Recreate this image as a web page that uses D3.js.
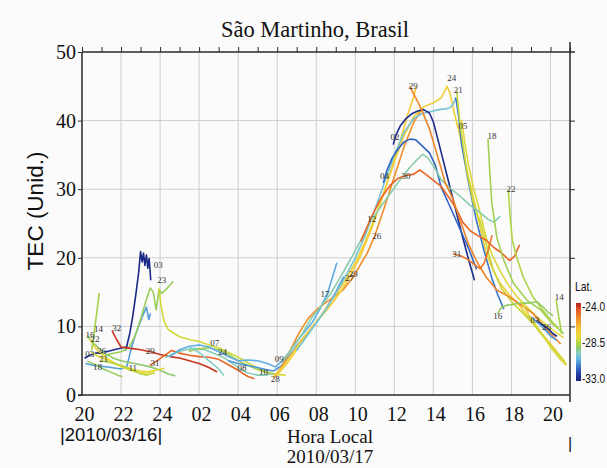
<!DOCTYPE html>
<html><head><meta charset="utf-8">
<script src="https://cdn.jsdelivr.net/npm/d3@7"></script>
<style>
html,body{margin:0;padding:0;background:#fbfbfb;}
svg{display:block;}
</style></head>
<body>
<svg id="chart" width="607" height="468"></svg>
<script>
// ---------------- DATA (hours counted from 20h of 2010/03/16; 24+ = next day) ----------------
const xTickValues = [20,22,24,26,28,30,32,34,36,38,40,42,44];
const xTickLabels = ["20","22","24","02","04","06","08","10","12","14","16","18","20"];
const yTickValues = [0,10,20,30,40,50];
const latTickValues = [-24.0,-28.5,-33.0];
const latTickLabels = ["-24.0","-28.5","-33.0"];

// TEC tracks: [hour, TEC]
const trk03night = [[20.15,5.4],[20.4,5.8],[20.7,6.1],[21.0,6.2],[21.4,6.4],[21.8,6.7],[22.1,6.9],[22.3,7.0]];
const trk03climb = [[22.25,6.6],[22.45,9.0],[22.6,11.5],[22.75,14.5],[22.9,17.8],[23.0,20.9],[23.08,19.4],[23.15,20.7],[23.22,18.9],[23.3,20.4],[23.37,18.5],[23.44,19.9],[23.52,16.8]];
const trkLblNight = [[20.2,4.6],[20.6,4.3],[21.0,4.2],[21.5,4.0],[22.0,3.8],[22.3,4.2],[22.5,6.5],[22.7,8.5],[22.9,10.0],[23.1,11.5],[23.3,12.8],[23.42,11.0],[23.5,11.8]];
const trk23 = [[21.0,5.6],[21.5,6.0],[22.0,6.3],[22.4,6.9],[22.7,8.5],[23.0,11.0],[23.25,13.5],[23.5,15.6],[23.65,15.0],[23.8,12.4],[23.95,15.4],[24.1,14.8],[24.3,15.4],[24.5,16.0],[24.65,16.5]];
const trk07 = [[23.95,15.5],[24.05,13.0],[24.2,10.8],[24.4,9.6],[24.7,9.0],[25.0,8.5],[25.5,8.1],[26.0,7.8],[26.5,7.3],[27.0,6.9],[27.5,6.2],[28.0,5.5],[28.5,4.7],[29.0,3.9],[29.5,3.3],[30.0,3.0],[30.4,2.9]];
const trk32 = [[21.55,9.3],[21.75,8.2],[22.0,7.0],[22.5,6.8],[23.0,6.6],[23.5,6.3],[24.0,5.9],[24.5,5.6],[25.0,5.4],[25.5,5.0],[26.0,4.6],[26.5,4.0],[26.9,3.4]];
const trk31night = [[23.5,4.4],[23.8,4.9],[24.2,5.7],[24.6,6.5],[25.0,6.1],[25.5,5.8],[26.0,5.6],[26.5,5.5],[27.0,5.2],[27.5,4.4],[28.0,3.6],[28.5,2.7],[28.8,2.4]];
const trk16night = [[20.3,8.6],[20.5,7.8],[20.8,7.0],[21.2,6.0],[21.6,5.4],[22.0,5.0],[22.5,4.7],[23.0,4.4],[23.5,4.1],[24.0,3.6],[24.4,3.1],[24.75,2.8]];
const trk22night = [[20.4,8.1],[20.6,7.2],[20.9,6.2],[21.3,5.3],[21.7,4.6],[22.1,4.0],[22.5,3.6],[22.9,3.3],[23.3,3.2],[23.7,3.5]];
const trk14night = [[20.5,6.6],[20.6,8.5],[20.7,10.8],[20.8,13.0],[20.88,14.8]];
const trk18night = [[20.3,4.9],[20.7,4.4],[21.1,3.8],[21.5,3.3],[21.9,2.8],[22.05,2.7]];
const trk21night = [[20.5,6.2],[20.9,5.5],[21.3,5.1],[21.8,4.5],[22.3,4.0],[22.8,3.6],[23.3,3.4],[23.8,3.6],[24.2,3.9]];
const trk11 = [[21.0,5.0],[21.5,4.7],[22.0,4.3],[22.5,3.7],[23.0,3.1],[23.3,2.9],[23.7,3.2]];
const trk08 = [[24.3,5.5],[24.8,6.2],[25.3,6.6],[25.8,6.8],[26.3,6.6],[26.8,6.0],[27.3,5.4],[27.7,4.6],[28.1,3.8],[28.5,3.2],[29.0,2.9],[29.4,2.9],[29.7,3.1]];
const trk24night = [[25.5,6.4],[26.0,6.7],[26.5,6.9],[27.0,6.6],[27.5,5.9],[28.0,5.0],[28.5,4.3],[29.0,3.7],[29.5,3.2],[30.0,3.0]];
const trk09 = [[24.5,5.6],[25.0,6.6],[25.5,7.1],[26.0,7.3],[26.5,7.0],[27.0,6.3],[27.5,5.6],[28.0,5.0],[28.5,5.1],[29.0,5.0],[29.5,4.6],[29.9,4.1],[30.2,4.8],[30.6,6.2],[31.0,7.8],[31.4,9.2],[31.8,10.6],[32.2,12.6],[32.6,15.0],[33.05,19.2]];
const trk10 = [[27.5,5.0],[28.0,4.6],[28.5,4.3],[29.0,4.0],[29.4,3.7],[29.8,3.5],[30.2,4.2],[30.6,5.6],[31.0,7.2],[31.5,8.8],[32.0,10.5],[32.5,12.6],[33.0,15.0],[33.4,17.2]];
const trkTeal = [[25.5,7.0],[26.0,6.2],[26.5,5.0],[27.0,3.8],[27.25,2.9]];
const trk27 = [[29.9,2.7],[30.3,4.5],[30.7,6.7],[31.0,8.4],[31.3,9.9],[31.6,11.2],[32.0,12.4],[32.5,13.5],[33.0,14.5],[33.4,15.4],[33.9,17.2],[34.3,19.2],[34.6,20.6],[35.0,23.2],[35.5,27.4],[36.0,31.8],[36.5,36.2],[37.0,39.8],[37.4,41.6]];
const trk29up = [[29.8,2.6],[30.3,4.2],[30.8,6.2],[31.3,8.2],[31.8,10.0],[32.3,11.6],[32.8,13.3],[33.3,15.3],[33.8,17.6],[34.3,20.5],[34.8,24.0],[35.3,28.0],[35.8,32.5],[36.3,37.0],[36.7,41.0],[37.0,43.5],[37.1,44.8]];
const trk24day = [[30.0,2.9],[30.5,4.6],[31.0,6.6],[31.5,8.6],[32.0,10.6],[32.5,12.6],[33.0,14.6],[33.5,16.8],[34.0,19.3],[34.5,22.3],[35.0,25.8],[35.5,29.8],[36.0,34.0],[36.5,37.8],[37.0,40.6],[37.5,42.0],[38.0,42.6],[38.4,43.3],[38.7,45.0],[38.85,44.0],[39.1,40.8],[39.4,37.4],[39.7,33.0],[40.05,28.8],[40.4,24.4],[40.7,20.8],[41.0,18.6],[41.4,16.4],[41.8,14.9],[42.3,13.4],[42.7,12.0],[43.1,10.6],[43.6,8.8],[44.1,7.1],[44.7,5.0]];
const trk21up = [[31.0,6.5],[31.5,8.5],[32.0,10.5],[32.5,12.5],[33.0,14.8],[33.5,17.3],[34.0,20.0],[34.5,23.2],[35.0,27.0],[35.5,31.0],[36.0,35.0],[36.5,38.3],[37.0,40.3],[37.4,41.0],[37.8,41.3],[38.3,41.6],[38.8,41.8],[39.0,42.3],[39.15,43.3]];
const trk21fall = [[39.15,43.3],[39.3,40.5],[39.45,36.5],[39.8,31.0],[40.2,25.5],[40.6,21.0],[41.0,17.0],[41.3,14.6],[41.6,12.6]];
const trk21day = [[39.2,44.2],[39.35,40.0],[39.7,32.8],[40.05,28.0],[40.4,25.3],[40.75,21.5],[41.07,18.2],[41.5,15.5],[42.1,13.3],[42.6,11.9],[43.1,10.4],[43.6,8.6],[44.1,6.9],[44.5,5.6],[44.8,4.5]];
const trk05 = [[39.45,40.0],[39.6,37.0],[39.8,33.5],[40.05,30.3],[40.4,26.5],[40.7,23.0],[41.0,20.5],[41.4,18.2],[41.8,16.2],[42.3,14.3],[42.8,12.8],[43.3,11.4],[43.7,10.4],[44.1,9.5],[44.65,8.4]];
const trk02 = [[35.95,36.6],[36.1,38.0],[36.3,39.2],[36.6,40.3],[36.9,41.0],[37.2,41.4],[37.5,41.6],[37.8,41.1],[38.0,39.8],[38.3,36.5],[38.7,32.0],[39.1,27.5],[39.5,23.0],[39.8,19.8],[40.1,16.8]];
const trk04 = [[35.45,31.0],[35.6,32.6],[35.9,34.6],[36.2,35.9],[36.5,36.9],[36.8,37.3],[37.1,37.2],[37.4,36.4],[37.8,35.3],[38.1,33.5],[38.4,30.3],[38.8,27.8],[39.3,24.6],[39.8,21.4],[40.2,18.4]];
const trk12 = [[30.3,5.0],[30.8,7.0],[31.3,9.0],[31.7,11.0],[32.2,12.8],[32.7,14.6],[33.2,17.0],[33.7,19.5],[34.3,22.6],[34.8,25.4],[35.3,27.4],[35.8,29.4],[36.3,31.4],[36.8,33.2],[37.2,34.4],[37.45,35.1],[37.7,34.6],[38.0,33.4],[38.4,31.4],[38.8,30.3],[39.4,28.9],[39.9,27.6],[40.4,26.6],[40.8,25.6],[41.1,25.2],[41.4,26.0]];
const trk30 = [[34.3,22.5],[34.8,25.8],[35.3,28.6],[35.8,30.6],[36.2,31.6],[36.6,32.0],[37.0,32.2],[37.3,32.8],[37.6,32.2],[38.0,31.3],[38.4,30.4],[38.8,28.8],[39.2,27.0],[39.5,25.2],[39.9,23.9],[40.3,23.2],[40.7,22.6],[41.1,21.5],[41.5,20.7],[41.9,19.6],[42.15,20.2],[42.4,21.8]];
const trk29down = [[36.8,44.9],[37.1,43.3],[37.4,41.6],[37.8,38.8],[38.2,35.0],[38.6,31.0],[39.0,28.6],[39.4,25.2],[39.8,22.0],[40.2,19.6],[40.7,17.2],[41.25,15.3],[41.9,14.3],[42.4,13.3],[43.1,11.9],[43.8,9.5],[44.5,7.5]];
const trk31day = [[39.05,20.6],[39.4,20.3],[39.8,19.7],[40.1,19.0],[40.4,18.4],[40.6,19.2],[40.8,21.0],[41.0,23.2]];
const trk18day = [[40.8,37.3],[40.9,32.0],[41.0,27.9],[41.25,23.0],[41.6,19.7],[42.1,16.3],[42.8,13.8],[43.5,12.4],[44.1,10.4],[44.65,9.0]];
const trk22day = [[41.84,29.8],[41.95,25.5],[42.05,22.5],[42.27,20.1],[42.6,17.2],[43.1,14.3],[43.6,12.4],[44.1,10.6],[44.4,9.8]];
const trk16day = [[41.3,11.9],[41.5,12.8],[41.76,13.1],[42.1,13.2],[42.4,13.4],[42.9,13.4],[43.3,13.6],[43.6,12.9],[43.9,12.0],[44.1,11.6]];
const trk14day = [[44.3,13.8],[44.4,11.8],[44.5,10.2],[44.57,9.0]];
const trk03day = [[43.3,10.8],[43.6,10.2],[43.9,9.6],[44.1,9.0],[44.3,8.6]];
const trk26day = [[42.9,11.5],[43.3,10.7],[43.7,9.6],[44.0,8.6],[44.3,8.0]];
const trkLowYG = [[42.5,13.5],[43.0,11.2],[43.5,9.2],[44.0,7.0],[44.5,5.2],[44.8,4.4]];

const trackList = [trk03night,trk03climb,trkLblNight,trk23,trk07,trk32,trk31night,trk16night,trk22night,trk14night,trk18night,trk21night,trk11,trk08,trk24night,trk09,trk10,trkTeal,trk27,trk29up,trk24day,trk21up,trk21fall,trk21day,trk05,trk02,trk04,trk12,trk30,trk29down,trk31day,trk18day,trk22day,trk16day,trk14day,trk03day,trk26day,trkLowYG];
// latitude of the ionospheric point of each track (colour)
const trackLat = [-32.6,-32.8,-30.8,-29.0,-28.2,-24.3,-25.0,-29.2,-27.6,-28.8,-29.0,-27.9,-28.6,-29.7,-28.9,-30.6,-30.9,-29.8,-25.8,-27.2,-27.4,-30.1,-31.3,-28.3,-28.0,-32.7,-31.6,-29.6,-25.0,-25.6,-25.3,-28.9,-28.7,-29.1,-28.8,-32.8,-30.8,-28.0];

// PRN labels: text, hour, TEC
const prnText  = ["16","14","22","03","26","21","18","11","32","29","31","03","23","07","24","08","10","28","09","17","27","29","12","26","04","30","02","29","24","21","05","18","22","31","16","14","03","26"];
const prnHour  = [20.41,20.84,20.67,20.4,21.0,21.1,20.8,22.6,21.78,23.5,23.74,23.9,24.08,26.8,27.2,28.2,29.3,29.9,30.1,32.45,33.7,33.9,34.84,35.1,35.5,36.6,36.03,36.97,38.94,39.28,39.5,41.0,41.98,39.2,41.3,44.45,43.2,43.8];
const prnTEC   = [8.8,9.6,8.1,6.0,6.4,5.3,4.1,3.9,9.8,6.4,4.7,19.0,16.7,7.6,6.3,3.9,3.4,2.4,5.2,14.7,17.1,17.6,25.6,23.2,31.9,31.9,37.6,45.0,46.2,44.5,39.2,37.7,30.0,20.6,11.5,14.3,11.0,9.9];

// ---------------- DRAW ----------------
const svg = d3.select("#chart");
const L = 82, R = 570, T = 52, B = 395;
const x = d3.scaleLinear().domain([20,45]).range([L,R]);
const y = d3.scaleLinear().domain([0,50]).range([B,T]);

const latColor = d3.scaleLinear()
  .domain([-33.0,-32.0,-31.2,-30.5,-29.8,-29.2,-28.6,-27.8,-27.0,-26.0,-25.0,-24.0])
  .range(["#16207a","#2848b0","#3f7fd0","#62b4e6","#86cfc8","#8cc96a","#b6d63c","#e9d93a","#f7c533","#f39a2c","#ea6524","#b8201c"]);

svg.append("rect").attr("width",607).attr("height",468).attr("fill","#fbfbfb");

// grid
const grid = svg.append("g").attr("stroke","#cdcdcd").attr("stroke-width",1);
grid.selectAll("line.v").data(xTickValues.slice(1)).join("line")
  .attr("x1",d=>x(d)).attr("x2",d=>x(d)).attr("y1",T).attr("y2",B);
grid.selectAll("line.h").data(yTickValues.slice(1,-1)).join("line")
  .attr("x1",L).attr("x2",R).attr("y1",d=>y(d)).attr("y2",d=>y(d));

// tracks
const line = d3.line().x(d=>x(d[0])).y(d=>y(d[1]));
svg.append("g").selectAll("path").data(trackList).join("path")
  .attr("d",line).attr("fill","none")
  .attr("stroke",(d,i)=>latColor(trackLat[i]))
  .attr("stroke-width",1.6).attr("stroke-linejoin","round").attr("stroke-linecap","round");

// PRN labels
svg.append("g").selectAll("text").data(prnText).join("text")
  .attr("x",(d,i)=>x(prnHour[i])).attr("y",(d,i)=>y(prnTEC[i]))
  .attr("text-anchor","middle").attr("dominant-baseline","central")
  .attr("font-family","Liberation Serif, serif").attr("font-size",9).attr("fill","#333")
  .text(d=>d);

// axes
const axColor = "#2a2a2a";
const yAx = svg.append("g").attr("transform",`translate(${L},0)`)
  .call(d3.axisLeft(y).tickValues(yTickValues).tickSize(4).tickPadding(2).tickFormat(d3.format("d")));
yAx.select(".domain").remove();
yAx.selectAll("line").attr("stroke",axColor);
yAx.selectAll("text").attr("font-family","Liberation Serif, serif").attr("font-size",20).attr("fill","#111");

const xAx = svg.append("g").attr("transform",`translate(2,${B})`)
  .call(d3.axisBottom(x).tickValues(xTickValues).tickSize(0).tickPadding(12).tickFormat((d,i)=>xTickLabels[i]));
xAx.select(".domain").remove();
xAx.selectAll("text").attr("font-family","Liberation Serif, serif").attr("font-size",20).attr("fill","#111");

const topAx = svg.append("g").attr("transform",`translate(0,${T})`)
  .call(d3.axisTop(x).ticks(25).tickSize(5).tickFormat(""));
topAx.select(".domain").remove();
topAx.selectAll("line").attr("stroke",axColor);

const rAx = svg.append("g").attr("transform",`translate(${R},0)`)
  .call(d3.axisRight(y).tickValues(yTickValues.slice(1,-1)).tickSize(5).tickFormat(""));
rAx.select(".domain").remove();
rAx.selectAll("line").attr("stroke",axColor);

const frame = svg.append("g").attr("stroke",axColor).attr("stroke-width",1.5);
frame.append("line").attr("x1",L).attr("x2",L).attr("y1",T).attr("y2",B);
frame.append("line").attr("x1",L-4).attr("x2",R).attr("y1",B).attr("y2",B);
frame.append("line").attr("x1",L).attr("x2",R+5).attr("y1",T).attr("y2",T);
frame.append("line").attr("x1",R).attr("x2",R).attr("y1",T-10).attr("y2",B+7);

// titles
svg.append("text").attr("x",315).attr("y",37).attr("text-anchor","middle")
  .attr("font-family","Liberation Serif, serif").attr("font-size",22.5).attr("fill","#111")
  .text("São Martinho, Brasil");
svg.append("text").attr("transform","translate(43,211) rotate(-90)").attr("text-anchor","middle")
  .attr("font-family","Liberation Sans, Arial, sans-serif").attr("font-size",22.5).attr("fill","#111")
  .text("TEC (Unid.)");
svg.append("text").attr("x",60).attr("y",441)
  .attr("font-family","Liberation Sans, Arial, sans-serif").attr("font-size",18.5).attr("fill","#111")
  .text("|2010/03/16|");
svg.append("text").attr("x",330).attr("y",443).attr("text-anchor","middle")
  .attr("font-family","Liberation Serif, serif").attr("font-size",19).attr("fill","#111")
  .text("Hora Local");
svg.append("text").attr("x",330).attr("y",463).attr("text-anchor","middle")
  .attr("font-family","Liberation Serif, serif").attr("font-size",19).attr("fill","#111")
  .text("2010/03/17");
svg.append("text").attr("x",570).attr("y",449).attr("text-anchor","middle")
  .attr("font-family","Liberation Sans, Arial, sans-serif").attr("font-size",16).attr("fill","#111")
  .text("|");

// colour bar
const cb = d3.scaleLinear().domain([-33,-24]).range([378,306]);
const defs = svg.append("defs");
const grad = defs.append("linearGradient").attr("id","latgrad").attr("x1",0).attr("y1",1).attr("x2",0).attr("y2",0);
latColor.domain().forEach((v,i)=>{
  grad.append("stop").attr("offset",(v+33)/9).attr("stop-color",latColor.range()[i]);
});
svg.append("rect").attr("x",576).attr("y",cb(-24)-3).attr("width",5).attr("height",cb(-33)-cb(-24)+6)
  .attr("fill","url(#latgrad)");
svg.append("g").selectAll("text").data(latTickValues).join("text")
  .attr("transform",d=>`translate(582,${cb(d)}) scale(0.78,1)`)
  .attr("dominant-baseline","central")
  .attr("font-family","Liberation Sans, Arial, sans-serif").attr("font-size",13).attr("fill","#111")
  .text((d,i)=>latTickLabels[i]);
svg.append("text").attr("transform","translate(575,291) scale(0.8,1)")
  .attr("font-family","Liberation Sans, Arial, sans-serif").attr("font-size",13).attr("fill","#111")
  .text("Lat.");
</script>
</body></html>
